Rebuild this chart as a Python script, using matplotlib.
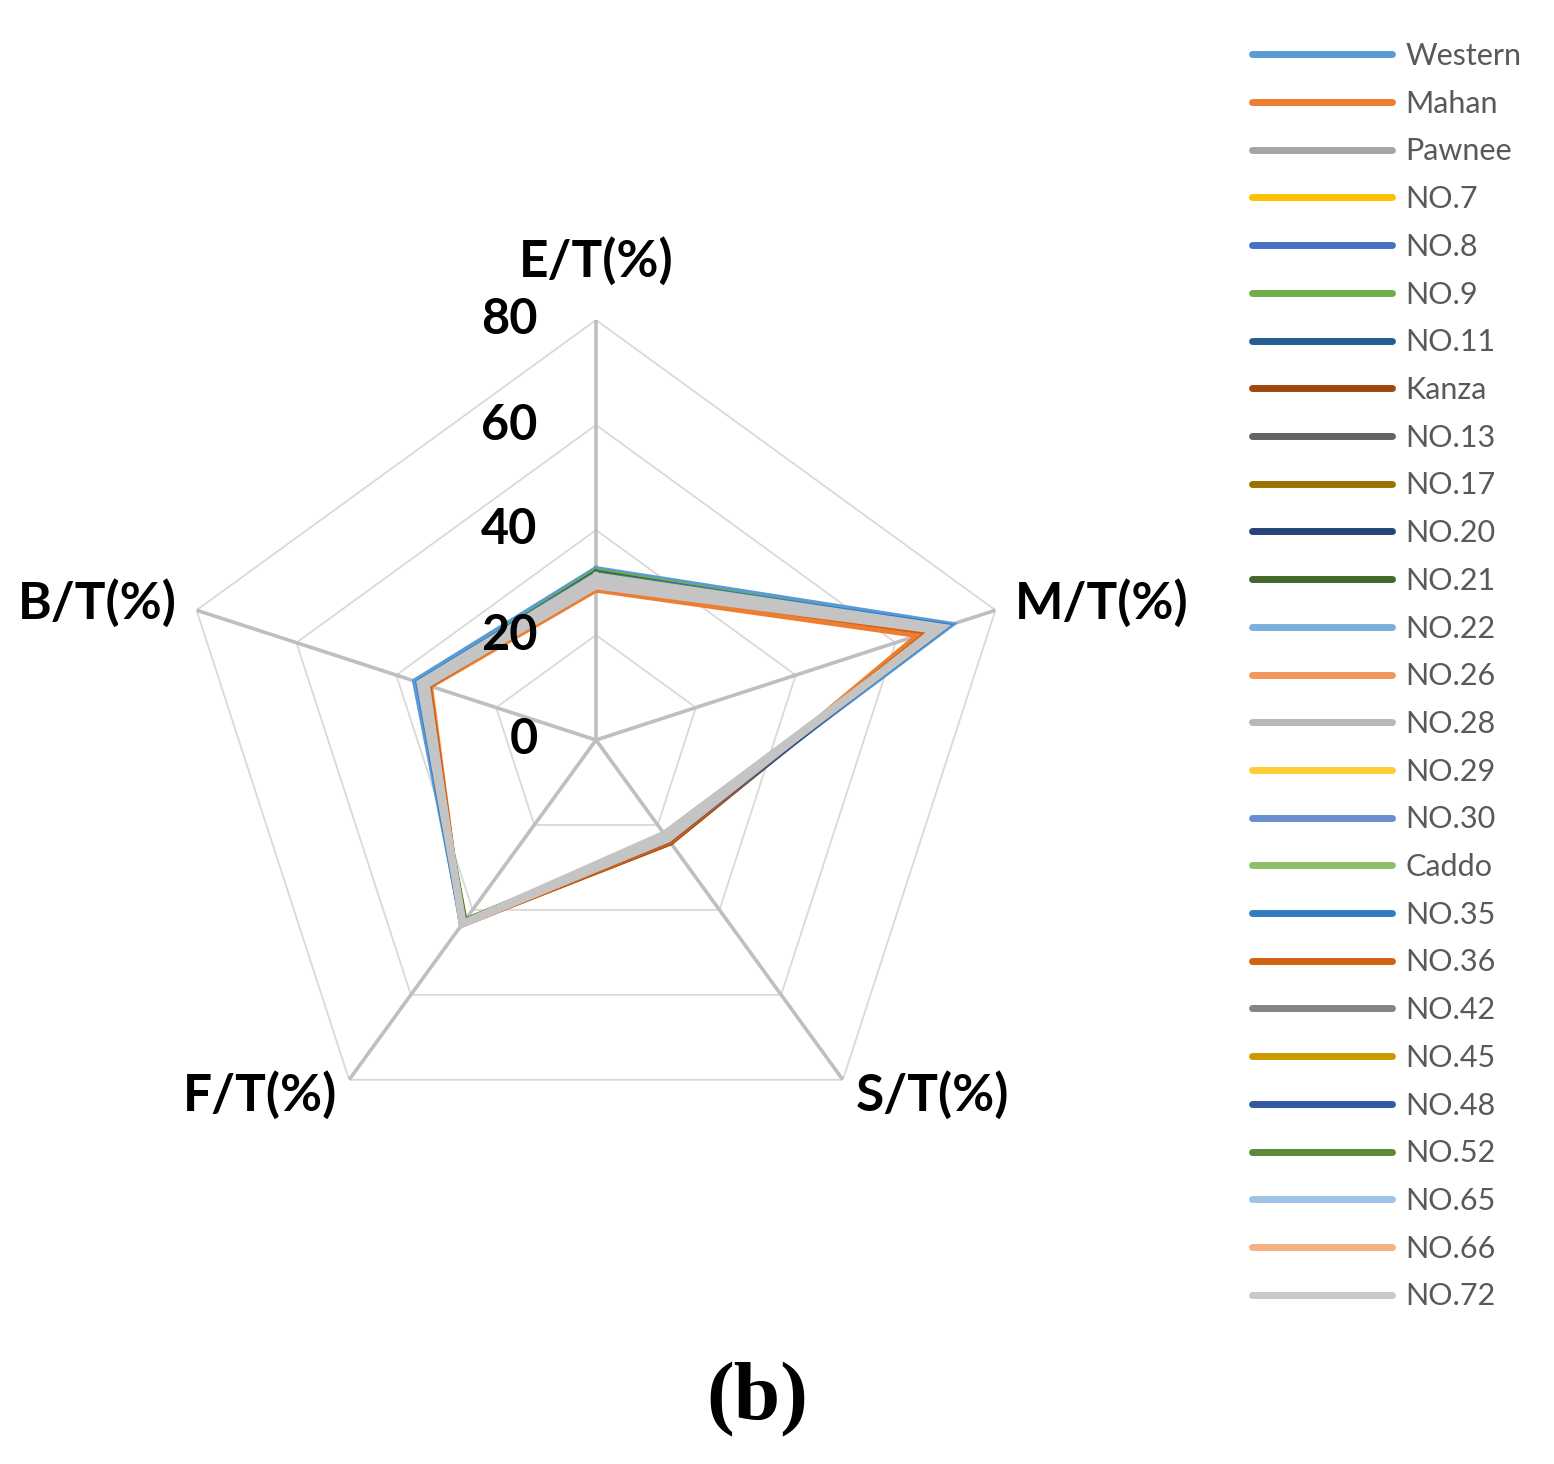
import matplotlib
matplotlib.use('Agg')
import matplotlib.pyplot as plt
import numpy as np

# axis labels, clockwise from top
axis_labels = ['E/T(%)', 'M/T(%)', 'S/T(%)', 'F/T(%)', 'B/T(%)']
ring_values = [0, 20, 40, 60, 80]

cultivars = ['Western', 'Mahan', 'Pawnee', 'NO.7', 'NO.8', 'NO.9', 'NO.11', 'Kanza',
             'NO.13', 'NO.17', 'NO.20', 'NO.21', 'NO.22', 'NO.26', 'NO.28', 'NO.29',
             'NO.30', 'Caddo', 'NO.35', 'NO.36', 'NO.42', 'NO.45', 'NO.48', 'NO.52',
             'NO.65', 'NO.66', 'NO.72']

# Excel-style series colours
colors = ['#5B9BD5', '#ED7D31', '#A5A5A5', '#FFC000', '#4472C4', '#70AD47', '#255E91',
          '#9E480E', '#636363', '#997300', '#264478', '#43682B', '#7CAFDD', '#F1975A',
          '#B7B7B7', '#FFCD33', '#698ED0', '#8CC168', '#327DC2', '#D26012', '#848484',
          '#CC9A00', '#335AA1', '#5A8A39', '#9DC3E6', '#F4B183', '#C9C9C9']

# ratios (%) per cultivar
e_t = [32.6, 28.6, 30.0, 30.4, 31.4, 32.2, 31.0, 29.6, 31.4, 30.0, 30.8, 31.9, 31.2, 29.8,
       30.6, 30.2, 31.0, 31.4, 31.6, 29.6, 29.2, 30.2, 30.8, 31.5, 31.0, 30.0, 30.5]
m_t = [71.2, 64.5, 68.5, 67.8, 69.0, 69.6, 68.8, 67.0, 69.8, 67.6, 68.6, 69.2, 69.6, 67.0,
       68.6, 67.9, 68.7, 69.0, 70.3, 66.5, 67.4, 68.0, 68.8, 69.2, 69.0, 67.5, 68.4]
s_t = [23.0, 24.1, 22.2, 23.0, 23.1, 22.8, 23.2, 24.2, 22.8, 23.4, 23.8, 22.9, 22.8, 23.8,
       22.0, 23.0, 23.2, 22.8, 22.9, 24.0, 23.4, 23.3, 23.6, 22.9, 22.7, 23.5, 22.6]
f_t = [43.3, 43.5, 43.0, 43.1, 43.2, 42.5, 43.1, 43.4, 43.3, 43.2, 43.0, 42.6, 43.2, 43.6,
       42.9, 43.1, 43.0, 42.8, 43.5, 43.4, 43.6, 43.1, 43.0, 42.8, 43.2, 43.4, 43.2]
b_t = [36.3, 33.2, 34.2, 34.4, 35.3, 35.2, 35.0, 33.6, 35.4, 34.0, 34.8, 35.2, 35.4, 33.6,
       34.8, 34.2, 34.9, 35.0, 35.6, 33.5, 33.8, 34.2, 34.8, 35.0, 35.0, 34.0, 34.6]

grays = {'Pawnee', 'NO.13', 'NO.28', 'NO.42', 'NO.72'}

fig = plt.figure(figsize=(15.54, 14.64), dpi=100)

cx, cy, rad = 596 / 1554, 1 - 740 / 1464, 420
ax = fig.add_axes([cx - rad / 1554, cy - rad / 1464, 2 * rad / 1554, 2 * rad / 1464],
                  projection='polar')
ax.set_theta_offset(np.pi / 2)
ax.set_theta_direction(-1)
ax.set_ylim(0, 80)
ax.grid(False)
ax.spines['polar'].set_visible(False)
ax.set_xticks([])
ax.set_yticks([])
ax.patch.set_visible(False)

angles = np.linspace(0, 2 * np.pi, len(axis_labels), endpoint=False)
closed = np.append(angles, angles[0])

# pentagon grid
for r in ring_values[1:]:
    ax.plot(closed, [r] * len(closed), color='#D9D9D9', lw=1.3, zorder=1)
for a in angles:
    ax.plot([a, a], [0, 80], color='#BFBFBF', lw=2.6, zorder=1)

# series (grey ones end up on top, like the reference)
for i, name in enumerate(cultivars):
    vals = [e_t[i], m_t[i], s_t[i], f_t[i], b_t[i]]
    z = 4 if name in grays else 3
    col = '#C4C4C4' if name in grays else colors[i]
    ax.plot(closed, vals + vals[:1], color=col, lw=4.0, label=name,
            solid_joinstyle='miter', zorder=z)

# radial tick labels
for v in ring_values:
    ax.annotate(str(v), xy=(0, v), xytext=(-42, 0), textcoords='offset points',
                ha='right', va='center', fontsize=35, fontweight='bold',
                family='Lato', color='black', zorder=5)

# axis labels
offsets = [((0, 42), 'center'), ((14, 5), 'left'), ((9, -11), 'left'),
           ((-9, -11), 'right'), ((-14, 5), 'right')]
for a, lab, (off, ha) in zip(angles, axis_labels, offsets):
    ax.annotate(lab, xy=(a, 80), xytext=off, textcoords='offset points',
                ha=ha, va='center', fontsize=37, fontweight='bold', family='Lato',
                annotation_clip=False)

leg = fig.legend(loc='upper left', bbox_to_anchor=(1252 / 1554, 1 - 42 / 1464),
                 frameon=False, handlelength=4.58, handletextpad=0.43,
                 labelspacing=0.645, borderpad=0, borderaxespad=0,
                 prop={'family': 'Lato', 'size': 22}, labelcolor='#595959')
for ln, c in zip(leg.get_lines(), colors):
    ln.set_linewidth(5)
    ln.set_color(c)
    ln.set_solid_capstyle('round')

fig.text(757 / 1554, 1 - 1400 / 1464, '(b)', family='Liberation Serif',
         fontweight='bold', fontsize=60, ha='center', va='center')

fig.savefig('out.png', dpi=100)
